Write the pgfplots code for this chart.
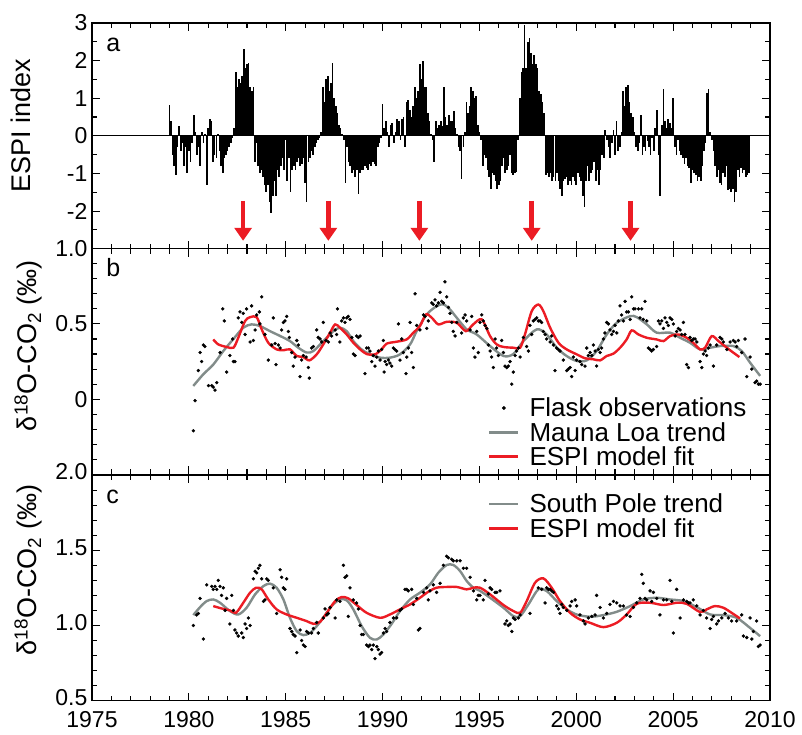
\documentclass[border=0pt]{standalone}
\usepackage{fontspec}
\setmainfont{Liberation Sans}
\usepackage{pgfplots}
\pgfplotsset{compat=1.18}
\usetikzlibrary{arrows.meta}
\definecolor{trendgray}{RGB}{130,140,138}
\definecolor{fitred}{RGB}{236,28,36}
\pgfplotsset{panel/.style={
  scale only axis, width=678pt, height=225.7pt,
  xmin=1975, xmax=2010,
  xtick={1975,1980,1985,1990,1995,2000,2005,2010}, minor x tick num=4,
  tick align=inside, xtick pos=both, ytick pos=both,
  major tick length=8pt, minor tick length=5pt,
  every tick/.style={black, line width=1.1pt},
  axis line style={line width=1.4pt},
  tick label style={font=\fontsize{23}{26}\selectfont},
  label style={font=\fontsize{27}{30}\selectfont},
  yticklabel style={inner xsep=0pt, xshift=-4.5pt},
  xticklabel style={inner ysep=0pt, yshift=-11pt},
  anchor=north west,
  legend cell align=left,
},
lineimg/.style={legend image code/.code={\draw[##1] (0pt,0pt) -- (29pt,0pt);}},
dotimg/.style={legend image code/.code={\fill[black] (14.5pt,0pt) circle (1.7pt);}},
}
\begin{document}
\begin{tikzpicture}
\useasboundingbox (0,0) rectangle (802pt,-734pt);
% ---------------- panel a
\begin{axis}[panel, at={(92pt,-23pt)},
  ymin=-3, ymax=3, ytick={-3,-2,-1,0,1,2,3}, yticklabels={,-2,-1,0,1,2,3},
  minor y tick num=1, xticklabels={},
  ylabel={ESPI index},
  ylabel style={at={(axis description cs:-0.105,0.546)}, anchor=center}]
\addplot[black, line width=1.1pt] coordinates {(1975,0) (2010,0)};
\addplot[ycomb, black, line width=1.7pt, mark=none] coordinates {
(1979.00,0.82)(1979.08,0.4)(1979.17,-0.5)(1979.25,-0.8)(1979.33,-1.05)(1979.42,-0.3)(1979.50,0.27)(1979.58,-0.4)(1979.67,-0.2)(1979.75,-0.8)(1979.83,-0.3)(1979.92,-1.0)
(1980.00,-0.4)(1980.08,-0.7)(1980.17,-0.2)(1980.25,0.55)(1980.33,0.1)(1980.42,-0.5)(1980.50,-0.3)(1980.58,-0.8)(1980.67,0.1)(1980.75,-0.2)(1980.83,0.05)(1980.92,-1.3)
(1981.00,0.2)(1981.08,0.45)(1981.17,0.4)(1981.25,-0.7)(1981.33,-0.5)(1981.42,-0.6)(1981.50,0.05)(1981.58,-0.4)(1981.67,-0.8)(1981.75,-1.0)(1981.83,-0.6)(1981.92,-0.5)
(1982.00,-0.4)(1982.08,-0.3)(1982.17,-0.2)(1982.25,-0.05)(1982.33,0.2)(1982.42,1.7)(1982.50,1.3)(1982.58,1.5)(1982.67,1.4)(1982.75,1.6)(1982.83,2.3)(1982.92,1.8)
(1983.00,1.9)(1983.08,1.95)(1983.17,1.3)(1983.25,1.2)(1983.33,1.3)(1983.42,-0.7)(1983.50,-0.2)(1983.58,-0.8)(1983.67,-1.0)(1983.75,-0.9)(1983.83,-1.1)(1983.92,-1.3)
(1984.00,-1.5)(1984.08,-1.3)(1984.17,-1.75)(1984.25,-2.05)(1984.33,-1.6)(1984.42,-1.2)(1984.50,-1.6)(1984.58,-0.9)(1984.67,-1.1)(1984.75,-0.8)(1984.83,-0.6)(1984.92,-0.9)
(1985.00,-0.1)(1985.08,-1.2)(1985.17,-0.6)(1985.25,-1.5)(1985.33,-0.9)(1985.42,-0.8)(1985.50,-0.9)(1985.58,-0.7)(1985.67,-0.6)(1985.75,-0.8)(1985.83,-0.75)(1985.92,-0.6)
(1986.00,-1.25)(1986.08,-1.75)(1986.17,-0.7)(1986.25,-0.6)(1986.33,-0.4)(1986.42,-0.5)(1986.50,-0.3)(1986.58,-0.2)(1986.67,-0.1)(1986.75,-0.05)(1986.83,0.1)(1986.92,1.3)
(1987.00,0.9)(1987.08,1.5)(1987.17,1.6)(1987.25,1.2)(1987.33,1.4)(1987.42,1.95)(1987.50,1.0)(1987.58,0.8)(1987.67,0.6)(1987.75,0.3)(1987.83,0.2)(1987.92,0.05)
(1988.00,-0.1)(1988.08,-1.25)(1988.17,-0.3)(1988.25,-0.7)(1988.33,-0.8)(1988.42,-1.0)(1988.50,-0.9)(1988.58,-1.1)(1988.67,-0.9)(1988.75,-1.55)(1988.83,-1.0)(1988.92,-0.9)
(1989.00,-0.9)(1989.08,-0.8)(1989.17,-0.85)(1989.25,-0.9)(1989.33,-0.75)(1989.42,-0.8)(1989.50,-0.7)(1989.58,-0.75)(1989.67,-0.8)(1989.75,-0.3)(1989.83,-0.2)(1989.92,-0.05)
(1990.00,0.85)(1990.08,0.2)(1990.17,0.4)(1990.25,0.1)(1990.33,-0.3)(1990.42,0.3)(1990.50,0.35)(1990.58,-0.2)(1990.67,0.1)(1990.75,0.45)(1990.83,0.4)(1990.92,-0.1)
(1991.00,0.45)(1991.08,0.5)(1991.17,-0.3)(1991.25,0.9)(1991.33,0.95)(1991.42,0.7)(1991.50,0.5)(1991.58,0.8)(1991.67,1.3)(1991.75,1.0)(1991.83,1.2)(1991.92,1.9)
(1992.00,1.5)(1992.08,2.0)(1992.17,1.3)(1992.25,1.3)(1992.33,0.6)(1992.42,0.4)(1992.50,0.05)(1992.58,-0.1)(1992.67,-0.7)(1992.75,0.4)(1992.83,0.2)(1992.92,0.3)
(1993.00,0.4)(1993.08,0.25)(1993.17,1.3)(1993.25,0.5)(1993.33,0.3)(1993.42,0.55)(1993.50,0.4)(1993.58,0.4)(1993.67,0.65)(1993.75,0.2)(1993.83,0.05)(1993.92,-0.3)
(1994.00,-0.4)(1994.08,-1.15)(1994.17,-0.3)(1994.25,0.1)(1994.33,0.9)(1994.42,0.6)(1994.50,0.8)(1994.58,1.3)(1994.67,1.2)(1994.75,1.0)(1994.83,1.05)(1994.92,0.3)
(1995.00,0.1)(1995.08,-0.1)(1995.17,-0.8)(1995.25,-0.5)(1995.33,-0.6)(1995.42,-0.9)(1995.50,-1.1)(1995.58,-1.4)(1995.67,-1.0)(1995.75,-1.05)(1995.83,-1.2)(1995.92,-1.4)
(1996.00,-1.3)(1996.08,-1.2)(1996.17,-0.8)(1996.25,-0.6)(1996.33,-1.0)(1996.42,-0.9)(1996.50,-0.8)(1996.58,-0.5)(1996.67,-1.0)(1996.75,-1.05)(1996.83,-1.0)(1996.92,-0.95)
(1997.00,-0.1)(1997.08,1.0)(1997.17,1.7)(1997.25,1.8)(1997.33,2.95)(1997.42,1.8)(1997.50,2.5)(1997.58,2.6)(1997.67,2.2)(1997.75,1.9)(1997.83,2.15)(1997.92,1.9)
(1998.00,1.8)(1998.08,1.2)(1998.17,1.1)(1998.25,0.9)(1998.33,0.6)(1998.42,-1.05)(1998.50,-1.0)(1998.58,-1.1)(1998.67,-1.0)(1998.75,-1.2)(1998.83,-1.1)(1998.92,-1.2)
(1999.00,-1.0)(1999.08,-1.2)(1999.17,-1.4)(1999.25,-1.6)(1999.33,-1.2)(1999.42,-1.15)(1999.50,-1.1)(1999.58,-1.3)(1999.67,-1.2)(1999.75,-1.3)(1999.83,-1.1)(1999.92,-1.2)
(2000.00,-1.3)(2000.08,-1.0)(2000.17,-1.1)(2000.25,-1.2)(2000.33,-1.6)(2000.42,-1.9)(2000.50,-1.2)(2000.58,-0.8)(2000.67,-1.2)(2000.75,-1.0)(2000.83,-0.9)(2000.92,-0.7)
(2001.00,-1.2)(2001.08,-0.9)(2001.17,-1.3)(2001.25,-0.9)(2001.33,-0.5)(2001.42,-0.6)(2001.50,0.15)(2001.58,-0.1)(2001.67,-0.3)(2001.75,-0.6)(2001.83,-0.2)(2001.92,0.15)
(2002.00,-0.5)(2002.08,0.4)(2002.17,-0.4)(2002.25,-0.3)(2002.33,0.1)(2002.42,1.2)(2002.50,0.8)(2002.58,1.3)(2002.67,1.35)(2002.75,0.9)(2002.83,0.6)(2002.92,0.5)
(2003.00,0.1)(2003.08,-0.3)(2003.17,-0.4)(2003.25,-0.2)(2003.33,0.55)(2003.42,-0.5)(2003.50,-0.3)(2003.58,-0.4)(2003.67,-0.15)(2003.75,-0.3)(2003.83,-0.5)(2003.92,-0.05)
(2004.00,-0.4)(2004.08,0.2)(2004.17,0.7)(2004.25,-0.5)(2004.33,-1.6)(2004.42,0.3)(2004.50,1.25)(2004.58,0.4)(2004.67,0.2)(2004.75,0.45)(2004.83,0.35)(2004.92,0.2)
(2005.00,1.0)(2005.08,-0.3)(2005.17,-0.5)(2005.25,-0.1)(2005.33,-0.4)(2005.42,-0.5)(2005.50,-0.6)(2005.58,-0.75)(2005.67,-0.6)(2005.75,-0.8)(2005.83,-0.85)(2005.92,-1.25)
(2006.00,-0.9)(2006.08,-1.0)(2006.17,-1.05)(2006.25,-1.2)(2006.33,-1.1)(2006.42,-1.2)(2006.50,-0.8)(2006.58,-0.4)(2006.67,-0.2)(2006.75,1.15)(2006.83,1.25)(2006.92,0.1)
(2007.00,-0.1)(2007.08,-0.4)(2007.17,-0.8)(2007.25,-1.1)(2007.33,-0.9)(2007.42,-1.25)(2007.50,-1.3)(2007.58,-1.0)(2007.67,-1.1)(2007.75,-0.8)(2007.83,-1.45)(2007.92,-1.4)
(2008.00,-1.5)(2008.08,-1.4)(2008.17,-1.75)(2008.25,-1.5)(2008.33,-0.9)(2008.42,-1.1)(2008.50,-0.85)(2008.58,-1.0)(2008.67,-0.9)(2008.75,-1.1)(2008.83,-1.05)(2008.92,-1.0)
};
\addplot[fitred, line width=4.5pt, mark=none, -{Triangle[width=17pt,length=13pt]}, quiver={u=0,v=-1.06}]
  coordinates {(1982.8,-1.73) (1987.2,-1.73) (1991.9,-1.73) (1997.7,-1.73) (2002.8,-1.73)};
\node[anchor=base west, font=\fontsize{25}{28}\selectfont] at (rel axis cs:0.016,0.875) {a};
\end{axis}
% ---------------- panel b
\begin{axis}[panel, at={(92pt,-248.7pt)},
  ymin=-0.5, ymax=1.0, ytick={-0.5,0,0.5,1.0}, yticklabels={,0,0.5,1.0},
  minor y tick num=4, xticklabels={},
  ylabel={δ\textsuperscript{18}O-CO\textsubscript{2} (‰)},
  ylabel style={at={(axis description cs:-0.094,0.57)}, anchor=center},
  legend style={at={(0.584,0.349)}, anchor=north west, draw=none, fill=none,
    font=\fontsize{26}{28}\selectfont, row sep=0pt, inner sep=0pt,
    /tikz/every odd column/.append style={column sep=8pt}}]
\addplot[only marks, mark=*, mark size=1.5pt, black, dotimg] coordinates {
(1980.23,-0.21)(1980.32,-0.01)(1980.49,0.19)(1980.58,0.31)(1980.66,0.25)(1980.75,0.36)(1980.83,0.35)(1981.01,0.09)(1981.18,0.09)(1981.26,0.08)
(1981.35,0.06)(1981.44,0.11)(1981.61,0.31)(1981.75,0.60)(1981.83,0.52)(1981.95,0.18)(1982.12,0.29)(1982.26,0.40)(1982.30,0.25)(1982.38,0.25)
(1982.55,0.54)(1982.64,0.58)(1982.73,0.51)(1982.81,0.57)(1982.90,0.43)(1982.98,0.60)(1983.16,0.38)(1983.24,0.62)(1983.33,0.39)(1983.42,0.46)
(1983.50,0.56)(1983.64,0.58)(1983.76,0.68)(1983.67,0.50)(1983.93,0.43)(1984.10,0.26)(1984.28,0.36)(1984.36,0.54)(1984.45,0.37)(1984.50,0.23)
(1984.62,0.36)(1984.71,0.34)(1984.79,0.46)(1984.88,0.51)(1984.96,0.52)(1985.05,0.55)(1985.14,0.45)(1985.19,0.41)(1985.31,0.31)(1985.39,0.22)
(1985.48,0.28)(1985.57,0.39)(1985.65,0.36)(1985.74,0.15)(1985.82,0.26)(1985.91,0.29)(1986.05,0.28)(1986.17,0.21)(1986.22,0.14)(1986.34,0.34)
(1986.43,0.35)(1986.60,0.46)(1986.68,0.41)(1986.77,0.40)(1986.86,0.38)(1986.94,0.51)(1987.08,0.39)(1987.20,0.38)(1987.29,0.44)(1987.37,0.42)
(1987.55,0.46)(1987.63,0.43)(1987.67,0.60)(1987.80,0.38)(1987.89,0.52)(1987.98,0.54)(1988.06,0.51)(1988.15,0.54)(1988.23,0.55)(1988.32,0.53)
(1988.41,0.41)(1988.49,0.30)(1988.58,0.29)(1988.66,0.42)(1988.75,0.41)(1988.84,0.42)(1989.09,0.17)(1989.18,0.34)(1989.27,0.34)(1989.35,0.32)
(1989.44,0.25)(1989.52,0.29)(1989.61,0.22)(1989.70,0.28)(1989.78,0.32)(1989.87,0.26)(1989.95,0.33)(1990.04,0.39)(1990.08,0.18)(1990.13,0.25)
(1990.21,0.23)(1990.30,0.26)(1990.38,0.24)(1990.47,0.22)(1990.56,0.34)(1990.64,0.33)(1990.73,0.32)(1990.82,0.50)(1990.90,0.26)(1990.99,0.40)
(1991.07,0.31)(1991.21,0.17)(1991.25,0.28)(1991.33,0.34)(1991.42,0.51)(1991.50,0.31)(1991.59,0.21)(1991.68,0.70)(1991.76,0.49)(1991.93,0.46)
(1992.11,0.56)(1992.19,0.55)(1992.28,0.47)(1992.36,0.52)(1992.54,0.64)(1992.62,0.63)(1992.71,0.66)(1992.79,0.62)(1992.88,0.64)(1992.97,0.71)
(1993.05,0.65)(1993.14,0.64)(1993.22,0.78)(1993.31,0.68)(1993.40,0.61)(1993.48,0.57)(1993.57,0.51)(1993.65,0.45)(1993.74,0.42)(1993.83,0.51)
(1994.08,0.44)(1994.17,0.54)(1994.26,0.56)(1994.34,0.52)(1994.52,0.46)(1994.60,0.55)(1994.69,0.34)(1994.77,0.28)(1994.86,0.45)(1994.94,0.31)
(1995.03,0.51)(1995.12,0.56)(1995.20,0.52)(1995.29,0.49)(1995.38,0.47)(1995.46,0.36)(1995.55,0.32)(1995.63,0.28)(1995.72,0.21)(1995.81,0.40)
(1995.89,0.34)(1995.98,0.29)(1996.15,0.39)(1996.24,0.31)(1996.32,0.22)(1996.41,0.21)(1996.49,0.22)(1996.58,0.25)(1996.67,0.10)(1996.75,0.18)
(1996.84,0.29)(1996.92,0.32)(1997.01,0.34)(1997.10,0.28)(1997.27,0.41)(1997.44,0.35)(1997.53,0.32)(1997.61,0.49)(1997.70,0.43)(1997.78,0.52)
(1997.87,0.53)(1997.96,0.54)(1998.04,0.52)(1998.13,0.52)(1998.21,0.51)(1998.30,0.45)(1998.39,0.43)(1998.47,0.40)(1998.65,0.38)(1998.73,0.42)
(1998.82,0.36)(1998.90,0.19)(1998.99,0.34)(1999.08,0.33)(1999.16,0.32)(1999.33,0.26)(1999.51,0.19)(1999.59,0.20)(1999.68,0.21)(1999.76,0.15)
(1999.85,0.28)(1999.94,0.19)(2000.02,0.26)(2000.19,0.25)(2000.28,0.23)(2000.45,0.22)(2000.54,0.34)(2000.62,0.29)(2000.71,0.31)(2000.80,0.29)
(2000.88,0.36)(2000.97,0.32)(2001.05,0.22)(2001.14,0.33)(2001.23,0.31)(2001.31,0.34)(2001.40,0.40)(2001.48,0.44)(2001.57,0.51)(2001.66,0.50)
(2001.74,0.46)(2001.83,0.43)(2001.92,0.45)(2002.00,0.49)(2002.09,0.44)(2002.17,0.52)(2002.26,0.62)(2002.34,0.56)(2002.43,0.52)(2002.52,0.65)
(2002.60,0.58)(2002.69,0.58)(2002.78,0.53)(2002.86,0.68)(2002.95,0.60)(2003.03,0.60)(2003.21,0.60)(2003.29,0.54)(2003.38,0.60)(2003.46,0.53)
(2003.55,0.65)(2003.64,0.52)(2003.72,0.34)(2003.81,0.33)(2003.89,0.32)(2003.98,0.33)(2004.15,0.35)(2004.24,0.52)(2004.32,0.50)(2004.41,0.52)
(2004.50,0.47)(2004.58,0.54)(2004.67,0.51)(2004.75,0.49)(2004.84,0.54)(2004.93,0.53)(2005.01,0.50)(2005.10,0.42)(2005.18,0.45)(2005.27,0.47)
(2005.36,0.46)(2005.44,0.43)(2005.53,0.51)(2005.61,0.43)(2005.70,0.23)(2005.79,0.21)(2005.87,0.41)(2005.96,0.39)(2006.04,0.40)(2006.13,0.40)
(2006.22,0.38)(2006.39,0.25)(2006.48,0.21)(2006.56,0.30)(2006.65,0.32)(2006.73,0.29)(2006.82,0.34)(2006.91,0.36)(2007.08,0.22)(2007.25,0.36)
(2007.42,0.41)(2007.51,0.40)(2007.59,0.38)(2007.77,0.33)(2007.94,0.38)(2008.11,0.39)(2008.20,0.38)(2008.28,0.35)(2008.37,0.39)(2008.54,0.31)
(2008.71,0.40)(2008.80,0.15)(2008.97,0.28)(2009.06,0.20)(2009.23,0.11)(2009.31,0.12)(2009.40,0.10)(2009.49,0.10)
};
\addlegendentry{Flask observations}
\addplot[trendgray, line width=2.4pt, smooth, mark=none, lineimg] coordinates {
(1980.23,0.088)(1980.75,0.166)(1981.26,0.23)(1981.78,0.32)(1982.30,0.40)(1982.81,0.475)(1983.24,0.497)(1983.67,0.486)(1984.19,0.452)(1984.71,0.42)
(1985.22,0.386)(1985.65,0.342)(1986.08,0.31)(1986.43,0.32)(1986.94,0.386)(1987.46,0.452)(1987.80,0.475)(1988.15,0.452)(1988.49,0.386)(1988.92,0.33)
(1989.35,0.298)(1989.87,0.276)(1990.38,0.276)(1990.90,0.298)(1991.42,0.364)(1991.76,0.452)(1992.28,0.563)(1992.79,0.618)(1993.14,0.63)(1993.48,0.596)
(1993.83,0.541)(1994.34,0.464)(1994.86,0.43)(1995.55,0.353)(1996.24,0.287)(1996.75,0.30)(1997.27,0.386)(1997.96,0.464)(1998.47,0.43)(1998.99,0.342)
(1999.50,0.287)(2000.02,0.254)(2000.54,0.258)(2001.05,0.32)(2001.57,0.43)(2002.09,0.508)(2002.78,0.552)(2003.12,0.545)(2003.64,0.497)(2004.15,0.442)
(2004.84,0.442)(2005.36,0.408)(2005.87,0.375)(2006.39,0.331)(2006.91,0.342)(2007.42,0.353)(2008.11,0.353)(2008.54,0.32)(2008.97,0.243)(2009.49,0.155)
};
\addlegendentry{Mauna Loa trend}
\addplot[fitred, line width=2.4pt, smooth, mark=none, lineimg] coordinates {
(1981.26,0.397)(1981.52,0.364)(1981.95,0.347)(1982.30,0.342)(1982.55,0.408)(1982.90,0.519)(1983.16,0.545)(1983.50,0.545)(1983.76,0.464)(1984.10,0.375)
(1984.53,0.331)(1984.88,0.325)(1985.22,0.331)(1985.57,0.287)(1985.91,0.28)(1986.22,0.258)(1986.60,0.298)(1986.94,0.364)(1987.29,0.442)(1987.55,0.497)
(1987.80,0.475)(1988.15,0.43)(1988.49,0.375)(1988.84,0.331)(1989.18,0.30)(1989.61,0.298)(1989.95,0.331)(1990.21,0.369)(1990.73,0.382)(1991.24,0.397)
(1991.59,0.442)(1991.93,0.486)(1992.24,0.563)(1992.54,0.541)(1992.88,0.497)(1993.31,0.514)(1993.83,0.508)(1994.30,0.452)(1994.68,0.497)(1995.12,0.53)
(1995.55,0.419)(1995.89,0.364)(1996.24,0.347)(1996.75,0.342)(1997.10,0.342)(1997.35,0.43)(1997.70,0.585)(1998.04,0.629)(1998.30,0.585)(1998.65,0.475)
(1999.08,0.375)(1999.50,0.331)(2000.02,0.298)(2000.45,0.272)(2000.88,0.265)(2001.23,0.258)(2001.57,0.287)(2001.91,0.302)(2002.26,0.342)(2002.60,0.397)
(2002.86,0.457)(2003.21,0.43)(2003.64,0.408)(2004.15,0.397)(2004.50,0.386)(2004.84,0.419)(2005.27,0.43)(2005.70,0.408)(2006.04,0.375)(2006.39,0.331)
(2006.65,0.342)(2006.99,0.419)(2007.34,0.386)(2007.77,0.342)(2008.11,0.309)(2008.42,0.28)
};
\addlegendentry{ESPI model fit}
\node[anchor=base west, font=\fontsize{25}{28}\selectfont] at (rel axis cs:0.016,0.875) {b};
\end{axis}
% ---------------- panel c
\begin{axis}[panel, at={(92pt,-475pt)},
  ymin=0.5, ymax=2.0, ytick={0.5,1.0,1.5,2.0}, yticklabels={0.5,1.0,1.5,2.0},
  minor y tick num=4,
  yticklabel style={yshift=3pt},
  xticklabels={1975,1980,1985,1990,1995,2000,2005,2010},
  ylabel={δ\textsuperscript{18}O-CO\textsubscript{2} (‰)},
  ylabel style={at={(axis description cs:-0.094,0.58)}, anchor=center},
  legend style={at={(0.584,0.926)}, anchor=north west, draw=none, fill=none,
    font=\fontsize{26}{28}\selectfont, row sep=0pt, inner sep=0pt,
    /tikz/every odd column/.append style={column sep=8pt}}]
\addplot[only marks, mark=*, mark size=1.5pt, black, forget plot] coordinates {
(1980.23,1.00)(1980.40,1.07)(1980.49,1.08)(1980.58,1.18)(1980.75,0.91)(1980.92,1.27)(1981.18,1.26)(1981.26,1.24)(1981.35,1.26)(1981.44,1.24)
(1981.52,1.30)(1981.61,1.26)(1981.69,1.20)(1981.78,1.25)(1981.87,1.10)(1981.95,1.18)(1982.12,1.01)(1982.21,1.20)(1982.30,1.10)(1982.38,0.97)
(1982.47,0.95)(1982.55,0.93)(1982.73,0.95)(1982.81,0.92)(1982.90,1.01)(1982.98,0.98)(1983.07,1.05)(1983.16,1.00)(1983.33,1.31)(1983.42,1.36)
(1983.50,1.35)(1983.59,1.38)(1983.67,1.40)(1983.76,1.31)(1983.85,1.16)(1983.93,1.17)(1984.02,1.31)(1984.10,1.30)(1984.36,1.25)(1984.53,1.08)
(1984.71,1.37)(1984.79,1.32)(1984.88,1.25)(1984.96,1.24)(1985.05,1.31)(1985.22,0.98)(1985.31,0.96)(1985.39,0.94)(1985.48,0.93)(1985.57,0.82)
(1985.74,0.97)(1985.82,0.90)(1985.91,0.87)(1986.00,0.86)(1986.08,0.96)(1986.17,0.95)(1986.34,0.95)(1986.43,0.98)(1986.60,1.02)(1986.68,0.95)
(1986.94,1.05)(1987.03,1.11)(1987.12,1.07)(1987.20,1.08)(1987.29,1.12)(1987.55,1.05)(1987.63,1.17)(1987.80,1.16)(1987.98,1.40)(1988.06,1.32)
(1988.15,1.33)(1988.23,1.06)(1988.32,1.25)(1988.49,1.17)(1988.66,1.15)(1988.75,1.11)(1988.84,1.00)(1988.92,0.94)(1989.01,0.94)(1989.18,0.87)
(1989.27,0.86)(1989.35,0.87)(1989.44,0.84)(1989.52,0.87)(1989.61,0.78)(1989.70,0.86)(1989.78,0.84)(1989.87,0.81)(1989.95,0.82)(1990.04,0.95)
(1990.13,0.98)(1990.21,0.96)(1990.38,1.02)(1990.56,1.05)(1990.73,1.05)(1990.90,1.10)(1990.99,1.11)(1991.16,1.24)(1991.25,1.24)(1991.33,1.23)
(1991.50,1.24)(1991.59,1.14)(1991.76,1.18)(1991.85,0.97)(1991.93,0.98)(1992.11,1.22)(1992.28,1.25)(1992.36,1.17)(1992.45,1.23)(1992.62,1.27)
(1992.79,1.22)(1992.97,1.28)(1993.14,1.40)(1993.31,1.46)(1993.40,1.45)(1993.57,1.44)(1993.65,1.43)(1993.83,1.43)(1994.00,1.43)(1994.17,1.38)
(1994.34,1.38)(1994.52,1.32)(1994.69,1.23)(1994.86,1.17)(1994.94,1.20)
(1995.03,1.20)(1995.20,1.17)(1995.29,1.30)(1995.46,1.21)(1995.55,1.25)(1995.63,1.24)(1995.81,1.22)(1995.89,1.22)(1996.06,1.23)(1996.32,1.01)
(1996.41,1.03)(1996.49,1.00)(1996.58,1.01)(1996.67,0.96)(1996.75,1.05)(1996.84,1.04)(1997.01,1.05)(1997.10,1.07)(1997.61,1.08)(1998.04,1.25)
(1998.21,1.24)(1998.39,1.15)(1998.47,1.25)(1998.56,1.24)(1998.65,1.24)(1998.73,1.23)(1998.82,1.22)(1998.99,1.13)(1999.08,1.11)(1999.16,1.08)
(1999.25,1.14)(1999.33,1.12)(1999.51,1.10)(1999.68,1.13)(1999.76,1.16)(1999.94,1.17)(2000.02,1.13)(2000.19,1.07)(2000.37,1.03)(2000.45,1.01)
(2000.62,1.05)(2000.80,1.06)(2000.97,1.07)(2001.05,1.20)(2001.23,1.12)(2001.40,1.05)(2001.57,1.08)(2001.74,1.14)(2001.92,1.16)(2002.09,1.15)
(2002.26,1.13)(2002.43,1.13)(2002.60,1.07)(2002.78,1.06)(2002.95,1.12)(2003.12,1.15)(2003.29,1.18)(2003.38,1.34)(2003.46,1.28)(2003.55,1.18)
(2003.64,1.17)(2003.81,1.23)(2003.89,1.16)(2003.98,1.22)(2004.15,1.18)(2004.32,1.07)(2004.50,1.17)(2004.67,1.17)(2004.84,1.30)(2004.93,1.16)
(2005.01,0.95)(2005.18,1.24)(2005.36,1.05)(2005.53,1.17)(2005.70,1.16)(2005.79,1.15)(2005.87,1.15)(2006.04,1.17)(2006.22,1.13)(2006.39,1.07)
(2006.56,1.10)(2006.73,1.05)(2006.91,0.98)(2006.99,1.04)(2007.08,1.06)(2007.25,1.01)(2007.34,1.03)(2007.51,1.05)(2007.68,1.08)(2007.85,1.05)
(2008.02,1.03)(2008.28,1.03)(2008.54,1.07)(2008.63,0.93)(2008.80,0.92)(2008.97,1.05)(2009.06,0.91)(2009.14,0.96)(2009.31,1.03)(2009.40,0.86)(2009.49,0.87)
};
\addplot[trendgray, line width=2.4pt, smooth, mark=none, lineimg] coordinates {
(1980.23,1.069)(1980.58,1.122)(1980.92,1.162)(1981.26,1.173)(1981.61,1.151)(1982.12,1.096)(1982.55,1.073)(1982.98,1.118)(1983.42,1.207)(1983.85,1.262)
(1984.19,1.278)(1984.53,1.251)(1984.88,1.173)(1985.22,1.051)(1985.57,0.962)(1985.91,0.936)(1986.26,0.951)(1986.60,0.996)(1986.94,1.051)(1987.37,1.129)
(1987.80,1.173)(1988.15,1.167)(1988.49,1.107)(1988.92,0.996)(1989.35,0.918)(1989.70,0.907)(1990.04,0.94)(1990.47,1.011)(1990.90,1.096)(1991.42,1.173)
(1991.93,1.218)(1992.45,1.273)(1992.88,1.351)(1993.31,1.402)(1993.65,1.402)(1994.00,1.362)(1994.34,1.296)(1994.69,1.251)(1995.03,1.23)(1995.55,1.184)
(1996.24,1.118)(1996.75,1.062)(1997.10,1.062)(1997.53,1.14)(1998.04,1.24)(1998.47,1.229)(1998.99,1.162)(1999.51,1.107)(2000.02,1.073)(2000.71,1.058)
(2001.40,1.069)(2002.09,1.091)(2002.78,1.129)(2003.46,1.173)(2004.15,1.184)(2004.84,1.173)(2005.53,1.162)(2006.22,1.122)(2006.91,1.073)(2007.59,1.069)
(2008.28,1.051)(2008.97,0.984)(2009.49,0.929)
};
\addlegendentry{South Pole trend}
\addplot[fitred, line width=2.4pt, smooth, mark=none, lineimg] coordinates {
(1981.26,1.129)(1981.69,1.113)(1982.12,1.10)(1982.43,1.084)(1982.81,1.151)(1983.16,1.218)(1983.47,1.251)(1983.76,1.24)(1984.10,1.173)(1984.53,1.107)
(1985.05,1.073)(1985.57,1.051)(1986.08,1.029)(1986.43,1.011)(1986.77,1.024)(1987.12,1.084)(1987.55,1.162)(1987.89,1.189)(1988.23,1.18)(1988.66,1.136)
(1989.18,1.084)(1989.87,1.051)(1990.38,1.073)(1990.90,1.107)(1991.42,1.14)(1991.93,1.184)(1992.36,1.224)(1992.79,1.251)(1993.31,1.256)(1993.83,1.256)
(1994.34,1.24)(1994.69,1.251)(1995.03,1.251)(1995.55,1.207)(1996.24,1.136)(1996.75,1.096)(1997.10,1.084)(1997.44,1.162)(1997.87,1.284)(1998.30,1.313)
(1998.73,1.251)(1999.16,1.162)(1999.68,1.084)(2000.19,1.04)(2000.71,1.018)(2001.40,0.989)(2002.09,1.018)(2002.60,1.073)(2003.12,1.144)(2003.81,1.151)
(2004.50,1.136)(2005.18,1.151)(2005.70,1.144)(2006.39,1.089)(2006.73,1.107)(2007.16,1.129)(2007.59,1.118)(2008.02,1.084)(2008.45,1.047)
};
\addlegendentry{ESPI model fit}
\node[anchor=base west, font=\fontsize{25}{28}\selectfont] at (rel axis cs:0.016,0.875) {c};
\end{axis}
\end{tikzpicture}
\end{document}
